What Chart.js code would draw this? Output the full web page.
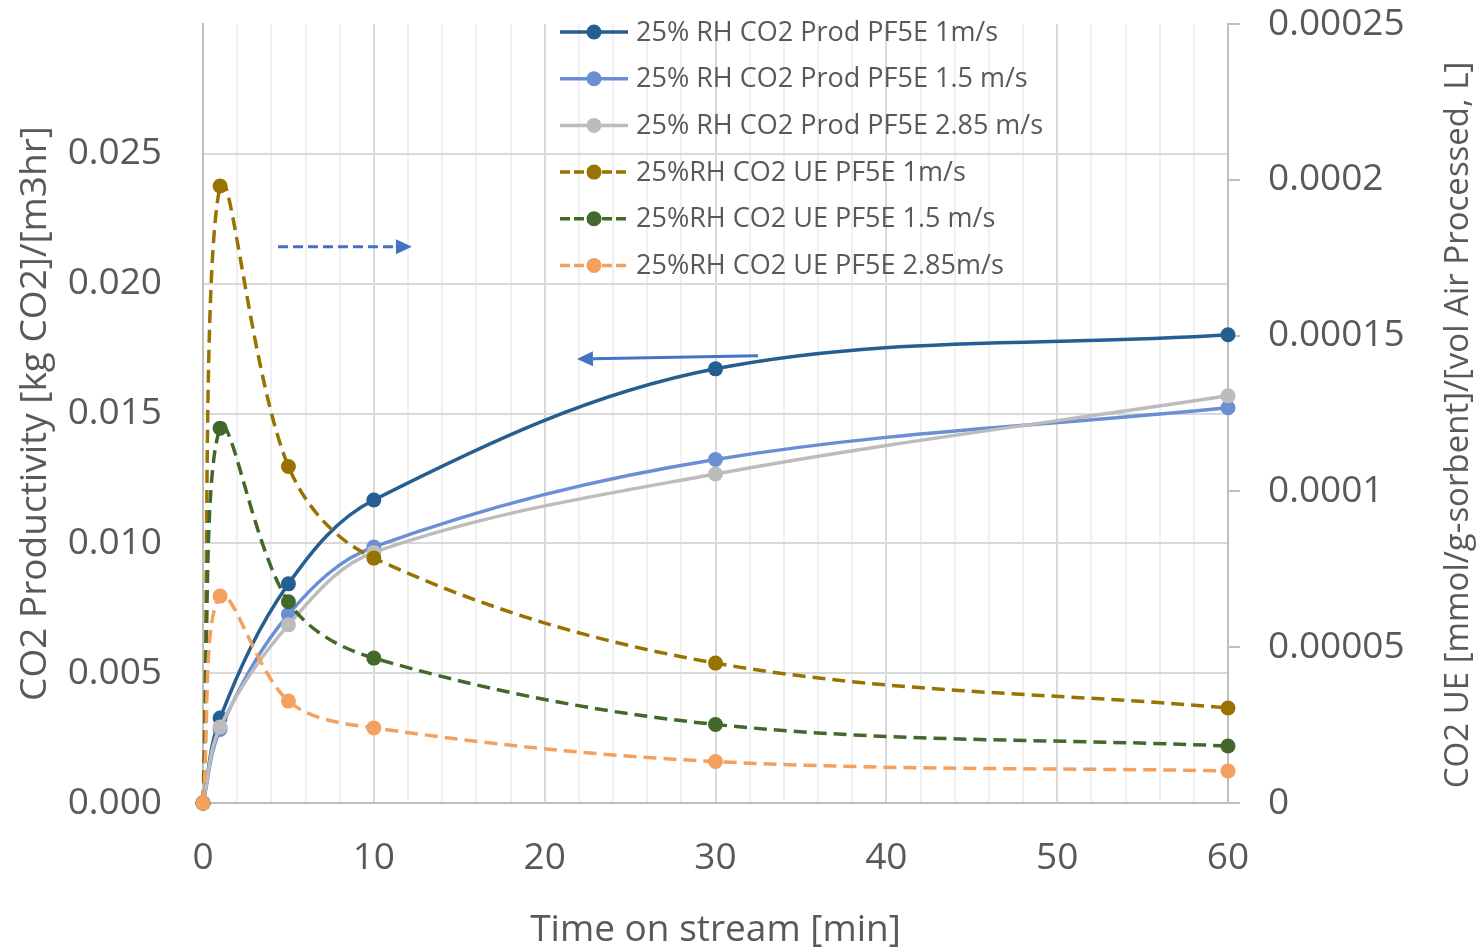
<!DOCTYPE html>
<html>
<head>
<meta charset="utf-8">
<title>CO2 Productivity and UE vs Time on stream</title>
<script src="https://cdn.jsdelivr.net/npm/chart.js@4.4.1/dist/chart.umd.min.js"></script>
<style>
  html, body { margin: 0; padding: 0; background: #ffffff; }
  #wrap { width: 1476px; height: 951px; position: relative; }
</style>
</head>
<body>
<div id="wrap"><canvas id="c" width="1476" height="951"></canvas></div>
<script>
// ---------------- data ----------------
const timeMin = [0, 1, 5, 10, 30, 60];

const prodPF5E_1   = [0, 0.00327, 0.00844, 0.01167, 0.01672, 0.01803];
const prodPF5E_15  = [0, 0.00283, 0.00726, 0.00986, 0.01323, 0.01522];
const prodPF5E_285 = [0, 0.00293, 0.00686, 0.00965, 0.01267, 0.01568];

const uePF5E_1   = [0, 0.000198,  0.0001080, 0.0000786, 0.0000449, 0.0000305];
const uePF5E_15  = [0, 0.0001203, 0.0000646, 0.0000465, 0.0000252, 0.0000183];
const uePF5E_285 = [0, 0.0000664, 0.0000327, 0.0000241, 0.0000133, 0.0000103];

const seriesNames = [
  '25% RH CO2 Prod PF5E 1m/s',
  '25% RH CO2 Prod PF5E 1.5 m/s',
  '25% RH CO2 Prod PF5E 2.85 m/s',
  '25%RH CO2 UE PF5E 1m/s',
  '25%RH CO2 UE PF5E 1.5 m/s',
  '25%RH CO2 UE PF5E 2.85m/s'
];

const xTickLabels     = ['0', '10', '20', '30', '40', '50', '60'];
const leftTickValues  = [0, 0.005, 0.010, 0.015, 0.020, 0.025];
const leftTickLabels  = ['0.000', '0.005', '0.010', '0.015', '0.020', '0.025'];
const rightTickValues = [0, 0.00005, 0.0001, 0.00015, 0.0002, 0.00025];
const rightTickLabels = ['0', '0.00005', '0.0001', '0.00015', '0.0002', '0.00025'];

const xTitle     = 'Time on stream [min]';
const leftTitle  = 'CO2 Productivity [kg CO2]/[m3hr]';
const rightTitle = 'CO2 UE [mmol/g-sorbent]/[vol Air Processed, L]';

// ---------------- styles ----------------
const FONT = "'Open Sans', sans-serif";
const TEXT = '#595959';
const ARROW = '#4472c4';

Chart.defaults.font.family = FONT;
Chart.defaults.color = TEXT;

function makeSet(i, values, color, axis, dashed) {
  return {
    label: seriesNames[i],
    data: timeMin.map((t, k) => ({ x: t, y: values[k] })),
    yAxisID: axis,
    borderColor: color,
    backgroundColor: color,
    borderWidth: 3.5,
    borderDash: dashed ? [13, 7] : [],
    borderCapStyle: 'butt',
    pointRadius: 7.5,
    pointHoverRadius: 7.5,
    pointBorderWidth: 0,
    pointBackgroundColor: color,
    tension: 0.35,
    fill: false,
    clip: false,
    order: 6 - i
  };
}

const datasets = [
  makeSet(0, prodPF5E_1,   '#255e91', 'yL', false),
  makeSet(1, prodPF5E_15,  '#6a8fd4', 'yL', false),
  makeSet(2, prodPF5E_285, '#bcbcbc', 'yL', false),
  makeSet(3, uePF5E_1,     '#997300', 'yR', true),
  makeSet(4, uePF5E_15,    '#43682b', 'yR', true),
  makeSet(5, uePF5E_285,   '#f4a05e', 'yR', true)
];

function drawArrow(ctx, x1, y1, x2, y2, dashed) {
  const ang = Math.atan2(y2 - y1, x2 - x1);
  const headLen = 16, headW = 7.5;
  const bx = x2 - headLen * Math.cos(ang), by = y2 - headLen * Math.sin(ang);
  ctx.save();
  ctx.strokeStyle = ARROW;
  ctx.fillStyle = ARROW;
  ctx.lineWidth = 3;
  ctx.setLineDash(dashed ? [10, 5] : []);
  ctx.beginPath();
  ctx.moveTo(x1, y1);
  ctx.lineTo(bx, by);
  ctx.stroke();
  ctx.setLineDash([]);
  ctx.beginPath();
  ctx.moveTo(x2, y2);
  ctx.lineTo(bx - headW * Math.sin(ang), by + headW * Math.cos(ang));
  ctx.lineTo(bx + headW * Math.sin(ang), by - headW * Math.cos(ang));
  ctx.closePath();
  ctx.fill();
  ctx.restore();
}

const overlay = {
  id: 'overlay',
  afterDatasetsDraw(chart) {
    const ctx = chart.ctx;
    const x = chart.scales.x, yL = chart.scales.yL;
    // arrow pointing to the right axis (UE series)
    drawArrow(ctx, x.getPixelForValue(4.39), yL.getPixelForValue(0.02142),
                   x.getPixelForValue(12.23), yL.getPixelForValue(0.02142), true);
    // arrow pointing to the left axis (productivity series)
    drawArrow(ctx, x.getPixelForValue(32.49), yL.getPixelForValue(0.01722),
                   x.getPixelForValue(21.89), yL.getPixelForValue(0.01710), false);
  },
  afterDraw(chart) {
    const ctx = chart.ctx;
    // legend inside plot
    const lx0 = 560, lx1 = 628, mx = 594, tx = 636, ly0 = 32, dy = 46.7;
    ctx.save();
    chart.data.datasets.forEach((ds, i) => {
      const y = ly0 + i * dy;
      ctx.strokeStyle = ds.borderColor;
      ctx.fillStyle = ds.borderColor;
      ctx.lineWidth = 3.5;
      ctx.setLineDash(ds.borderDash.length ? [10, 4] : []);
      ctx.beginPath();
      ctx.moveTo(lx0, y);
      ctx.lineTo(lx1, y);
      ctx.stroke();
      ctx.setLineDash([]);
      ctx.beginPath();
      ctx.arc(mx, y, 7.5, 0, Math.PI * 2);
      ctx.fill();
      ctx.fillStyle = TEXT;
      ctx.font = "27px " + FONT;
      ctx.textAlign = 'left';
      ctx.textBaseline = 'middle';
      ctx.fillText(ds.label, tx, y + 1);
    });
    // right axis title (reads bottom-to-top)
    ctx.translate(1459, 425);
    ctx.rotate(-Math.PI / 2);
    ctx.fillStyle = TEXT;
    ctx.font = "33px " + FONT;
    ctx.textAlign = 'center';
    ctx.textBaseline = 'middle';
    ctx.fillText(rightTitle, 0, 0);
    ctx.restore();
  }
};

new Chart(document.getElementById('c'), {
  type: 'line',
  data: { datasets },
  plugins: [overlay],
  options: {
    responsive: false,
    devicePixelRatio: 1,
    animation: false,
    events: [],
    layout: { padding: { top: 24, left: 0, right: 0, bottom: 0 } },
    plugins: { legend: { display: false }, tooltip: { enabled: false } },
    scales: {
      x: {
        type: 'linear',
        min: 0, max: 60,
        ticks: {
          stepSize: 2,
          autoSkip: false,
          maxRotation: 0,
          padding: 33,
          font: { size: 37 },
          color: TEXT,
          callback: (v) => (v % 10 === 0 ? xTickLabels[v / 10] : '')
        },
        grid: {
          drawTicks: false,
          lineWidth: 2,
          color: (c) => (c.tick && c.tick.value % 10 === 0 ? '#d9d9d9' : '#f0f0f0')
        },
        border: { color: '#bfbfbf', width: 2 },
        title: {
          display: true, text: xTitle, color: TEXT,
          font: { size: 37, lineHeight: 1 },
          padding: { top: 0, bottom: 2 }
        },
        afterFit: (s) => { s.height = 148; s.paddingLeft = 0; s.paddingRight = 0; }
      },
      yL: {
        type: 'linear',
        position: 'left',
        min: 0, max: 0.03,
        afterBuildTicks: (s) => { s.ticks = leftTickValues.map(v => ({ value: v })); },
        ticks: {
          padding: 41,
          font: { size: 37 },
          color: TEXT,
          callback: (v, i) => leftTickLabels[i]
        },
        grid: { drawTicks: false, lineWidth: 2, color: '#d9d9d9' },
        border: { color: '#bfbfbf', width: 2 },
        title: {
          display: true, text: leftTitle, color: TEXT,
          font: { size: 37, lineHeight: 1 },
          padding: { top: 16.5, bottom: 0 }
        },
        afterFit: (s) => { s.width = 203; s.paddingTop = 0; s.paddingBottom = 0; }
      },
      yR: {
        type: 'linear',
        position: 'right',
        min: 0, max: 0.00025,
        afterBuildTicks: (s) => { s.ticks = rightTickValues.map(v => ({ value: v })); },
        ticks: {
          padding: 28,
          font: { size: 37 },
          color: TEXT,
          callback: (v, i) => rightTickLabels[i]
        },
        grid: {
          drawOnChartArea: false, drawTicks: true, tickLength: 12,
          lineWidth: 2, color: '#bfbfbf'
        },
        border: { color: '#bfbfbf', width: 2 },
        afterFit: (s) => { s.width = 248; s.paddingTop = 0; s.paddingBottom = 0; }
      }
    }
  }
});
</script>
</body>
</html>
